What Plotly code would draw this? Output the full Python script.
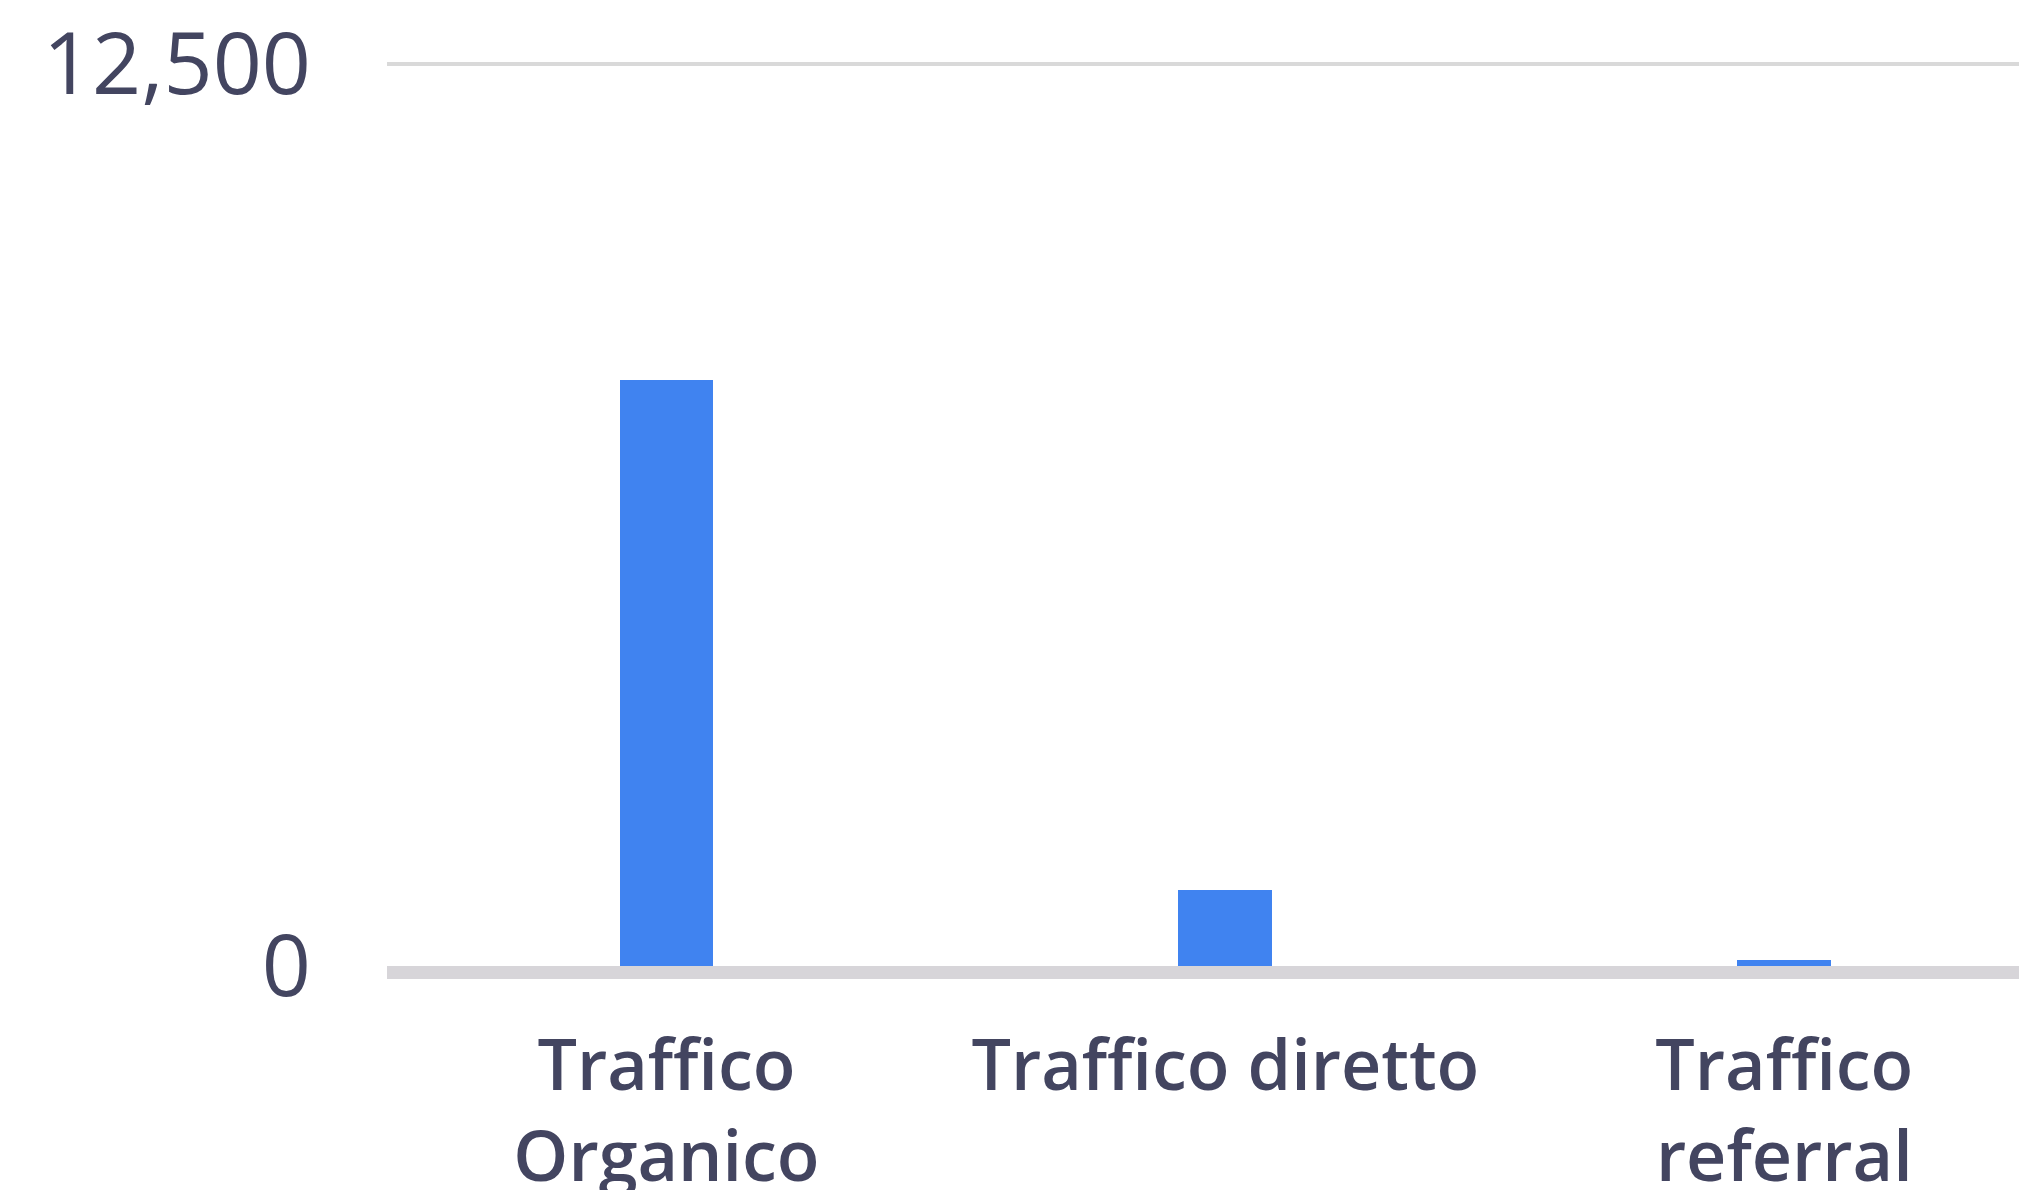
import plotly.graph_objects as go

# Traffic sources and sessions
categories = ["Traffico<br>Organico", "Traffico diretto", "Traffico<br>referral"]
sessions = [8120, 1050, 80]

# Y axis ticks
y_tickvals = [0, 12500]
y_ticktext = ["0", "12,500"]

text_color = "#434560"

# plot area geometry (px)
top_margin = 40
bottom_margin = 224
fig_height = 1190
scale_px = 902  # pixels between 0 and 12,500
plot_px = fig_height - top_margin - bottom_margin
y_max = y_tickvals[-1] * plot_px / scale_px

fig = go.Figure(
    go.Bar(
        x=categories,
        y=sessions,
        marker=dict(color="#4083F0", line=dict(width=0)),
        width=0.168,
    )
)

fig.update_layout(
    width=2019,
    height=fig_height,
    margin=dict(l=387, r=0, t=top_margin, b=bottom_margin),
    paper_bgcolor="white",
    plot_bgcolor="white",
    showlegend=False,
    bargap=0,
)

fig.update_xaxes(
    range=[-0.5, 2.42],
    automargin=False,
    showgrid=False,
    zeroline=False,
    showline=True,
    linewidth=13,
    linecolor="#D7D5D9",
    ticks="",
    ticklabelstandoff=27,
    tickfont=dict(family="Open Sans", size=70, color=text_color, weight=600),
)

fig.update_yaxes(
    range=[0, y_max],
    automargin=False,
    tickvals=y_tickvals,
    ticktext=y_ticktext,
    showgrid=True,
    gridcolor="#D9D9D9",
    gridwidth=4,
    zeroline=False,
    showline=False,
    ticks="",
    ticklabelstandoff=75,
    tickfont=dict(family="Open Sans", size=86, color=text_color),
)

fig.write_html("out.html")
